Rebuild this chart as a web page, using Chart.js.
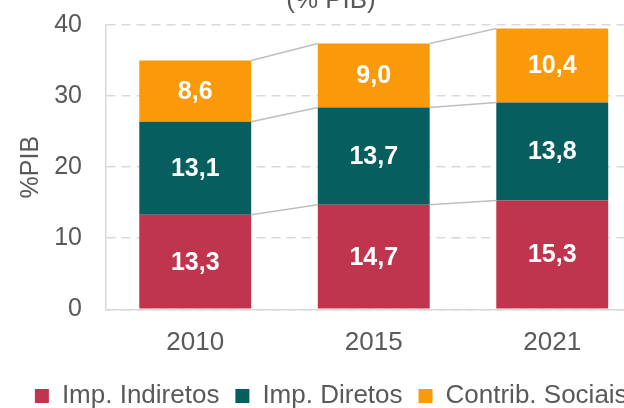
<!DOCTYPE html>
<html><head><meta charset="utf-8">
<script src="https://cdn.jsdelivr.net/npm/chart.js@4"></script>
<style>
html,body{margin:0;padding:0;background:#fff;overflow:hidden;width:624px;height:408px}
#wrap{position:absolute;left:0;top:0;width:680px;height:419px}
</style>
</head><body><div id="wrap"><canvas id="c"></canvas></div>
<script>
const categories = ['2010', '2015', '2021'];
const impIndiretos = [13.3, 14.7, 15.3];
const impDiretos = [13.1, 13.7, 13.8];
const contribSociais = [8.6, 9.0, 10.4];
const seriesNames = ['Imp. Indiretos', 'Imp. Diretos', 'Contrib. Sociais'];
const seriesColors = ['#C0344D', '#065E5F', '#FA990A'];
const yTickValues = [0, 10, 20, 30, 40];
const titleText = '(% PIB)';
const yAxisTitle = '%PIB';

const FONT = '"Liberation Sans", Arial, sans-serif';
const GREY = '#595959';

const titlePlugin = {
  id: 'topTitle',
  afterDraw(chart) {
    const ctx = chart.ctx;
    ctx.save();
    ctx.font = '26px ' + FONT;
    ctx.fillStyle = GREY;
    ctx.textAlign = 'center';
    ctx.textBaseline = 'alphabetic';
    ctx.fillText(titleText, 331, 8);
    ctx.restore();
  }
};

const legendShift = {
  id: 'legendShift',
  afterLayout(chart) {
    const lg = chart.legend;
    if (lg) { lg.left += 10.5; lg.right += 10.5; }
  }
};

const connectorPlugin = {
  id: 'connectors',
  afterDatasetsDraw(chart) {
    const ctx = chart.ctx;
    ctx.save();
    ctx.strokeStyle = '#BFBFBF';
    ctx.lineWidth = 1.5;
    chart.data.datasets.forEach((ds, d) => {
      const meta = chart.getDatasetMeta(d);
      for (let i = 0; i < meta.data.length - 1; i++) {
        const a = meta.data[i], b = meta.data[i + 1];
        ctx.beginPath();
        ctx.moveTo(a.x + a.width / 2, a.y);
        ctx.lineTo(b.x - b.width / 2, b.y);
        ctx.stroke();
      }
    });
    ctx.restore();
  }
};

const labelPlugin = {
  id: 'valueLabels',
  afterDatasetsDraw(chart) {
    const ctx = chart.ctx;
    ctx.save();
    ctx.font = 'bold 25px ' + FONT;
    ctx.fillStyle = '#FFFFFF';
    ctx.textAlign = 'center';
    ctx.textBaseline = 'middle';
    chart.data.datasets.forEach((ds, d) => {
      const meta = chart.getDatasetMeta(d);
      meta.data.forEach((el, i) => {
        const txt = ds.data[i].toFixed(1).replace('.', ',');
        ctx.fillText(txt, el.x, (el.y + el.base) / 2 + 1);
      });
    });
    ctx.restore();
  }
};

new Chart(document.getElementById('c'), {
  type: 'bar',
  data: {
    labels: categories,
    datasets: [
      { label: seriesNames[0], data: impIndiretos, backgroundColor: seriesColors[0] },
      { label: seriesNames[1], data: impDiretos, backgroundColor: seriesColors[1] },
      { label: seriesNames[2], data: contribSociais, backgroundColor: seriesColors[2] }
    ]
  },
  options: {
    responsive: true,
    maintainAspectRatio: false,
    animation: false,
    datasets: { bar: { categoryPercentage: 1, barPercentage: 0.627 } },
    layout: { padding: { left: 0, right: 38.5, top: 25, bottom: 0 } },
    plugins: {
      legend: {
        position: 'bottom',
        labels: {
          font: { family: FONT, size: 26 },
          color: GREY,
          boxWidth: 14,
          boxHeight: 14,
          padding: 16
        }
      },
      tooltip: { enabled: false },
      title: { display: false }
    },
    scales: {
      x: {
        stacked: true,
        grid: { display: false, drawTicks: false },
        border: { display: true, color: '#D9D9D9', width: 1.5 },
        ticks: { font: { family: FONT, size: 26 }, color: GREY, padding: 18 },
        afterFit(scale) { scale.height = 57.7; }
      },
      y: {
        stacked: true,
        min: 0,
        max: 40,
        afterBuildTicks(scale) { scale.ticks = yTickValues.map(v => ({ value: v })); },
        grid: { color: '#D9D9D9', lineWidth: 1.5, drawTicks: false },
        border: { display: true, color: '#D9D9D9', width: 1.5, dash: [9, 6] },
        ticks: { font: { family: FONT, size: 25 }, color: GREY, padding: 24 },
        title: { display: true, text: yAxisTitle, color: GREY, font: { family: FONT, size: 25 }, padding: { top: 16, bottom: 0 } },
        afterFit(scale) { scale.width = 106; scale.paddingTop = 0; scale.paddingBottom = 0; }
      }
    }
  },
  plugins: [titlePlugin, legendShift, connectorPlugin, labelPlugin]
});
</script>
</body></html>
